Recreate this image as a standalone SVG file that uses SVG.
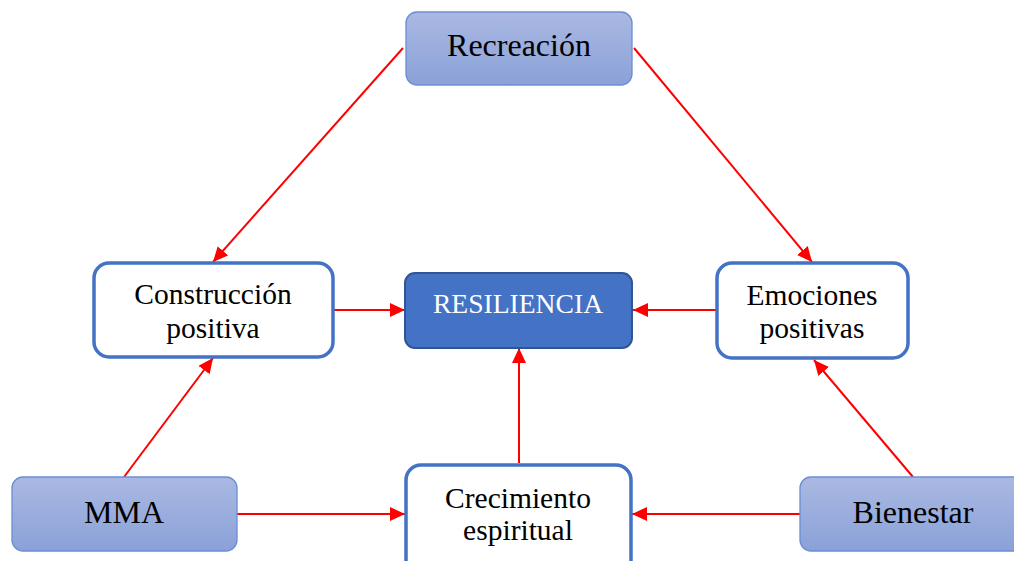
<svg xmlns="http://www.w3.org/2000/svg" width="1014" height="561" viewBox="0 0 1014 561">
<defs>
<linearGradient id="g" x1="0" y1="0" x2="0" y2="1">
<stop offset="0" stop-color="#aab9e2"/>
<stop offset="1" stop-color="#8aa1d8"/>
</linearGradient>
<marker id="ah" viewBox="0 0 15 14" refX="15" refY="7" markerWidth="15" markerHeight="14" markerUnits="userSpaceOnUse" orient="auto">
<path d="M0,0 L15,7 L0,14 Z" fill="#ff0000"/>
</marker>
</defs>
<style>
.grad{fill:url(#g);stroke:#6b8ed2;stroke-width:1.3}
.white{fill:#ffffff;stroke:#4472c4;stroke-width:3.5}
.core{fill:#4472c4;stroke:#2f5597;stroke-width:2}
.t{font-family:"Liberation Serif","Times New Roman",serif;fill:#000;text-anchor:middle}
.big{font-size:32px}
.mid{font-size:29.5px}
.wt{font-family:"Liberation Serif","Times New Roman",serif;fill:#ffffff;text-anchor:middle;font-size:27.6px}
.c{stroke:#ff0000;stroke-width:2;fill:none;marker-end:url(#ah)}
</style>
<rect width="1014" height="561" fill="#ffffff"/>
<g id="connectors">
<line class="c" x1="403" y1="48" x2="213" y2="262"/>
<line class="c" x1="634" y1="48" x2="812" y2="262"/>
<line class="c" x1="124" y1="477" x2="213" y2="358"/>
<line class="c" x1="913" y1="477" x2="814" y2="360"/>
<line class="c" x1="237" y1="514" x2="405" y2="514"/>
<line class="c" x1="800" y1="514" x2="632" y2="514"/>
<line class="c" x1="519" y1="463" x2="519" y2="348"/>
<line class="c" x1="334" y1="310" x2="405" y2="310"/>
<line class="c" x1="716" y1="310" x2="633" y2="310"/>
</g>
<g id="recreacion">
<rect class="grad" x="406" y="12" width="226" height="73" rx="11"/>
<text class="t big" x="519" y="56">Recreación</text>
</g>
<g id="construccion">
<rect class="white" x="94" y="263" width="239" height="94" rx="15"/>
<text class="t mid" x="213" y="304">Construcción</text>
<text class="t mid" x="213" y="338">positiva</text>
</g>
<g id="resiliencia">
<rect class="core" x="405" y="273" width="227" height="75" rx="10"/>
<text class="wt" x="518" y="313">RESILIENCIA</text>
</g>
<g id="emociones">
<rect class="white" x="717" y="263" width="191" height="95" rx="15"/>
<text class="t mid" x="812" y="305">Emociones</text>
<text class="t mid" x="812" y="338">positivas</text>
</g>
<g id="crecimiento">
<rect class="white" x="406" y="465" width="225" height="110" rx="15"/>
<text class="t mid" x="518" y="508">Crecimiento</text>
<text class="t mid" x="518" y="540">espiritual</text>
</g>
<g id="mma">
<rect class="grad" x="12" y="477" width="225" height="74" rx="11"/>
<text class="t big" x="124" y="523">MMA</text>
</g>
<g id="bienestar">
<rect class="grad" x="800" y="477" width="226" height="74" rx="11"/>
<text class="t big" x="913" y="523">Bienestar</text>
</g>
</svg>
